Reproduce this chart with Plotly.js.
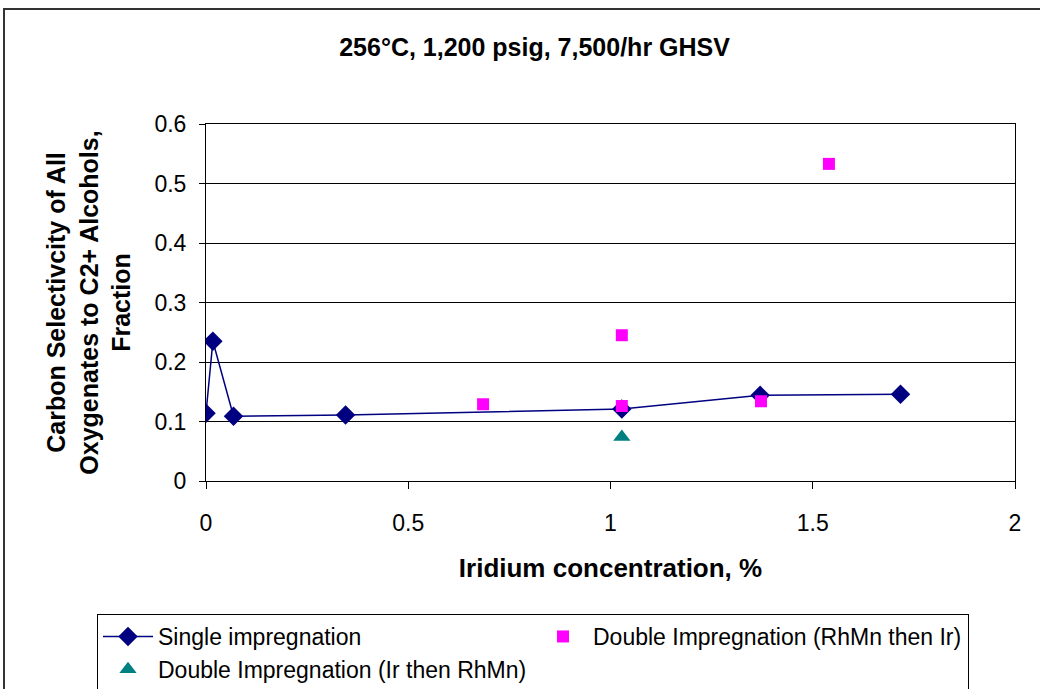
<!DOCTYPE html>
<html>
<head>
<meta charset="utf-8">
<script src="https://cdn.plot.ly/plotly-3.0.1.min.js"></script>
<style>html,body{margin:0;padding:0;background:#fff;}#chart{width:1040px;height:689px;}</style>
</head>
<body>
<div id="chart"></div>
<script>
// Data
const singleX = [0, 0.017, 0.068, 0.345, 1.028, 1.37, 1.717];
const singleY = [0.114, 0.235, 0.109, 0.111, 0.121, 0.144, 0.146];
const rhmnIrX = [0.685, 1.028, 1.028, 1.372, 1.54];
const rhmnIrY = [0.129, 0.245, 0.126, 0.134, 0.533];
const irRhmnX = [1.028];
const irRhmnY = [0.074];
const seriesNames = ["Single impregnation", "Double Impregnation (RhMn then Ir)", "Double Impregnation (Ir then RhMn)"];
const xTicks = [0, 0.5, 1, 1.5, 2];
const yTicks = [0, 0.1, 0.2, 0.3, 0.4, 0.5, 0.6];

const FONT = "Liberation Sans, Arial, sans-serif";

const traces = [
  {x: singleX, y: singleY, name: seriesNames[0], type: "scatter", mode: "lines+markers",
   line: {color: "#000080", width: 1.5},
   marker: {symbol: "diamond", size: 15, color: "#000080"}},
  {x: rhmnIrX, y: rhmnIrY, name: seriesNames[1], type: "scatter", mode: "markers",
   marker: {symbol: "square", size: 12, color: "#FF00FF"}},
  {x: irRhmnX, y: irRhmnY, name: seriesNames[2], type: "scatter", mode: "markers",
   marker: {symbol: "triangle-up", size: 15, color: "#008080"}}
];

const L = 206, R = 1015, T = 124, B = 481;
const W = R - L, H = B - T;
const px = v => (v - L) / W;
const py = v => (B - v) / H;

const layout = {
  width: 1040, height: 689,
  paper_bgcolor: "#fff", plot_bgcolor: "#fff",
  margin: {l: L, r: 1040 - R, t: T, b: 689 - B, autoexpand: false},
  font: {family: FONT, color: "#000"},
  title: {text: "<b>256°C, 1,200 psig, 7,500/hr GHSV</b>", font: {size: 25, family: FONT, color: "#000"},
          x: 0.514, xref: "container", xanchor: "center", y: 1 - 47/689, yref: "container", yanchor: "middle"},
  xaxis: {range: [0, 2], tickvals: xTicks, ticktext: xTicks.map(String),
          showgrid: false, zeroline: false, showline: true, linecolor: "#000", linewidth: 1, mirror: true,
          ticks: "outside", ticklen: 7, tickcolor: "#000", tickfont: {size: 23, family: FONT},
          ticklabelstandoff: 14,
          title: {text: "<b>Iridium concentration, %</b>", font: {size: 26, family: FONT}, standoff: 24}},
  yaxis: {range: [0, 0.6], tickvals: yTicks, ticktext: yTicks.map(String),
          showgrid: true, gridcolor: "#000", gridwidth: 1, zeroline: false,
          showline: true, linecolor: "#000", linewidth: 1, mirror: true,
          ticks: "outside", ticklen: 6, tickcolor: "#000", tickfont: {size: 23, family: FONT},
          ticklabelstandoff: 8,
          title: {text: "<b>Carbon Selectivcity of All<br>Oxygenates to C2+ Alcohols,<br>Fraction</b>", font: {size: 25, family: FONT}, standoff: 16}},
  showlegend: true,
  legend: {orientation: "h", x: px(97), xanchor: "left", y: py(614), yanchor: "top",
           bordercolor: "#000", borderwidth: 1, bgcolor: "#fff",
           entrywidth: 370, entrywidthmode: "pixels", itemwidth: 50,
           font: {size: 23, family: FONT, color: "#000"}, traceorder: "normal"},
  shapes: [
    {type: "rect", xref: "paper", yref: "paper", x0: px(4), x1: px(1050), y0: py(700), y1: py(9),
     line: {color: "#333", width: 2}, fillcolor: "rgba(0,0,0,0)", layer: "below"}
  ]
};

Plotly.newPlot("chart", traces, layout, {staticPlot: true, displayModeBar: false});
</script>
</body>
</html>
